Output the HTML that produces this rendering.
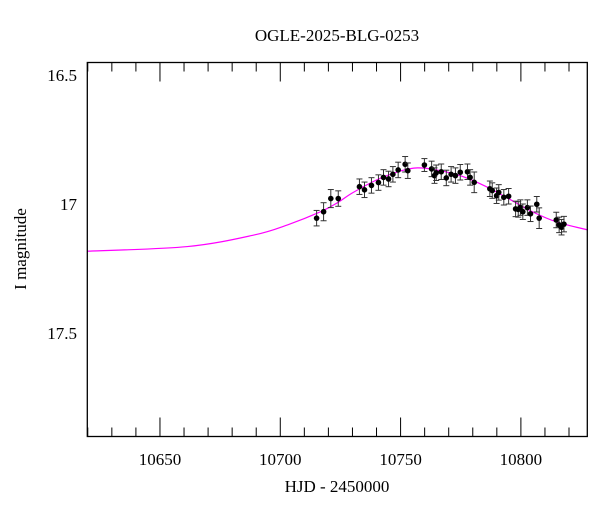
<!DOCTYPE html>
<html><head><meta charset="utf-8"><style>
body{margin:0;background:#fff}
svg{display:block;font-family:"Liberation Serif",serif}
</style></head><body>
<svg id="chart" width="600" height="512">
<text x="337" y="41" text-anchor="middle" font-size="17">OGLE-2025-BLG-0253</text>
<text x="337" y="492" text-anchor="middle" font-size="17">HJD - 2450000</text>
<text transform="translate(26,249) rotate(-90)" text-anchor="middle" font-size="17">I magnitude</text>
<g id="axes"></g><g id="curve"></g><g id="pts"></g>
<rect x="87.3" y="62.5" width="500" height="374" fill="none" stroke="#000" stroke-width="1.3"/>
</svg>
<script>
const days=[10715.1,10718.0,10721.0,10724.1,10732.9,10735.0,10737.9,10740.8,10742.9,10745.0,10746.8,10749.0,10751.9,10753.0,10759.9,10762.9,10764.1,10764.8,10766.9,10769.0,10771.0,10772.8,10774.8,10777.8,10778.9,10780.6,10787.1,10788.1,10789.9,10790.8,10792.9,10794.9,10797.8,10798.9,10799.8,10800.8,10802.7,10804.0,10806.6,10807.6,10814.7,10815.9,10816.9,10817.9];
const mags=[17.055,17.030,16.979,16.979,16.933,16.945,16.928,16.917,16.897,16.903,16.885,16.868,16.846,16.871,16.849,16.864,16.890,16.879,16.875,16.899,16.885,16.890,16.877,16.875,16.897,16.916,16.941,16.948,16.968,16.955,16.974,16.970,17.019,17.021,17.014,17.030,17.014,17.038,17.001,17.055,17.062,17.081,17.090,17.078];
const errs=[0.03,0.035,0.035,0.03,0.03,0.03,0.03,0.03,0.03,0.03,0.03,0.03,0.03,0.03,0.025,0.03,0.03,0.03,0.03,0.03,0.03,0.03,0.03,0.03,0.03,0.04,0.03,0.03,0.03,0.03,0.03,0.03,0.03,0.03,0.03,0.03,0.03,0.03,0.03,0.04,0.03,0.03,0.03,0.03];
const modelDays=[10619.8,10661.4,10689.2,10703,10716.8,10723.8,10730,10740,10750,10757,10765,10775,10785,10795,10805,10815,10827.6];
const modelMags=[17.183,17.165,17.12,17.081,17.030,16.995,16.957,16.907,16.872,16.860,16.868,16.891,16.930,16.98,17.031,17.07,17.10];
const xTicksMajor=[10650,10700,10750,10800];
const yTicksMajor=[16.5,17,17.5];
const L=87.3,R=587.3,T=62.5,B=436.5;
const X0=10619.8,X1=10827.6,Y0=16.4516,Y1=17.9012;
const sx=d=>L+(d-X0)/(X1-X0)*(R-L);
const sy=m=>T+(m-Y0)/(Y1-Y0)*(B-T);
const NS='http://www.w3.org/2000/svg';
function mk(tag,attrs,parent){const e=document.createElementNS(NS,tag);for(const k in attrs)e.setAttribute(k,attrs[k]);parent.appendChild(e);return e;}
const ax=document.getElementById('axes');
for(let d=10620;d<=10827;d+=10){
  const maj=xTicksMajor.includes(d);const len=maj?19:9;const x=sx(d);
  const t1=mk('line',{x1:x,x2:x,y1:B,y2:B-len,stroke:'#000','stroke-width':1},ax);
  
  
  const t2=mk('line',{x1:x,x2:x,y1:T,y2:T+len,stroke:'#000','stroke-width':1},ax);
  
  
}
xTicksMajor.forEach(d=>{const t=mk('text',{x:sx(d),y:465,'text-anchor':'middle','font-size':17},ax);t.textContent=String(d);
  
  });
for(let i=5;i<=18;i++){
  const m=i/10;const maj=yTicksMajor.some(v=>Math.abs(v-m)<1e-6);const len=maj?19:9;const y=sy(m);
  if(y<T||y>B)continue;
  const t1=mk('line',{x1:L,x2:L+len,y1:y,y2:y,stroke:'#000','stroke-width':1},ax);
  
  
  const t2=mk('line',{x1:R,x2:R-len,y1:y,y2:y,stroke:'#000','stroke-width':1},ax);
  
  
}
yTicksMajor.forEach(m=>{const t=mk('text',{x:77,y:sy(m)+6,'text-anchor':'end','font-size':17},ax);t.textContent=String(m);
  
  });
// model curve (Catmull-Rom)
const P=modelDays.map((d,i)=>[sx(d),sy(modelMags[i])]);
let dstr='M'+P[0][0]+','+P[0][1];
for(let i=0;i<P.length-1;i++){const p0=P[Math.max(0,i-1)],p1=P[i],p2=P[i+1],p3=P[Math.min(P.length-1,i+2)];
  dstr+=` C${p1[0]+(p2[0]-p0[0])/6},${p1[1]+(p2[1]-p0[1])/6} ${p2[0]-(p3[0]-p1[0])/6},${p2[1]-(p3[1]-p1[1])/6} ${p2[0]},${p2[1]}`;}
const cg=document.getElementById('curve');
const path=mk('path',{d:dstr,fill:'none',stroke:'#ff00ff','stroke-width':1.2},cg);


const pg=document.getElementById('pts');
days.forEach((d,i)=>{const x=sx(d),y=sy(mags[i]),y1=sy(mags[i]-errs[i]),y2=sy(mags[i]+errs[i]);
  const g=mk('g',{stroke:'#333','stroke-width':1},pg);
  
  
  mk('line',{x1:x,x2:x,y1:y1,y2:y2},g);
  mk('line',{x1:x-3,x2:x+3,y1:y1,y2:y1},g);
  mk('line',{x1:x-3,x2:x+3,y1:y2,y2:y2},g);
  mk('circle',{cx:x,cy:y,r:2.8,fill:'#000',stroke:'none'},g);
});
</script>
</body></html>
